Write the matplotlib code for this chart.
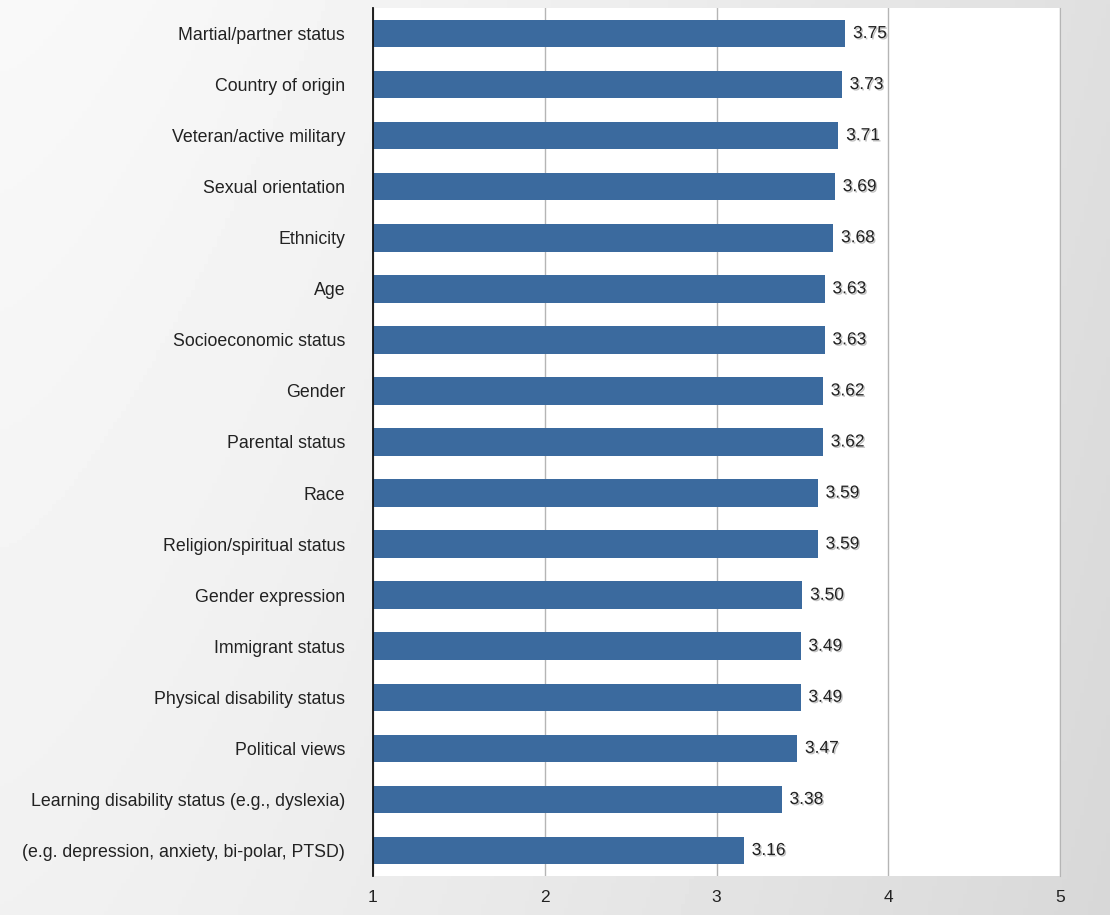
import matplotlib.pyplot as plt
import matplotlib.patheffects as pe
import numpy as np

categories = [
    "Martial/partner status",
    "Country of origin",
    "Veteran/active military",
    "Sexual orientation",
    "Ethnicity",
    "Age",
    "Socioeconomic status",
    "Gender",
    "Parental status",
    "Race",
    "Religion/spiritual status",
    "Gender expression",
    "Immigrant status",
    "Physical disability status",
    "Political views",
    "Learning disability status (e.g., dyslexia)",
    "(e.g. depression, anxiety, bi-polar, PTSD)",
]
values = [3.75, 3.73, 3.71, 3.69, 3.68, 3.63, 3.63, 3.62, 3.62,
          3.59, 3.59, 3.50, 3.49, 3.49, 3.47, 3.38, 3.16]
xticks = [1, 2, 3, 4, 5]

BAR = "#3b6a9e"
plt.rcParams["font.family"] = ["Liberation Sans", "DejaVu Sans"]

fig = plt.figure(figsize=(11.1, 9.15), dpi=100)

# grey slide-style background gradient
bg = fig.add_axes([0, 0, 1, 1], zorder=-10)
gx = np.linspace(0, 1, 256)
gy = np.linspace(0, 1, 256)
grad = 0.975 - 0.10 * gx[None, :] ** 1.4 - 0.03 * gy[:, None]
bg.imshow(grad, cmap="gray", vmin=0, vmax=1, aspect="auto", extent=[0, 1, 0, 1])
bg.axis("off")

ax = fig.add_axes([0.336, 0.0426, 0.619, 0.9487])
ax.set_facecolor("white")

y = np.arange(len(categories))
ax.barh(y, [v - 1 for v in values], left=1, height=0.54, color=BAR, zorder=3)
for yi, v in zip(y, values):
    ax.text(v + 0.045, yi, f"{v:.2f}", va="center", ha="left", fontsize=12.5,
            color="#222222", zorder=4,
            path_effects=[pe.withSimplePatchShadow(offset=(1, -1), alpha=0.25)])

ax.set_xlim(1, 5)
ax.set_ylim(len(categories) - 0.5, -0.5)
ax.set_xticks(xticks)
ax.set_xticklabels([str(t) for t in xticks], fontsize=12.5, color="#222222")
ax.set_yticks(y)
ax.set_yticklabels(categories, fontsize=12.8, color="#222222")
ax.tick_params(axis="both", length=0)
ax.tick_params(axis="x", pad=10)
ax.tick_params(axis="y", pad=20)
ax.grid(axis="x", color="#b5b5b5", linewidth=1, zorder=1)
ax.set_axisbelow(True)

for s in ("top", "bottom"):
    ax.spines[s].set_visible(False)
ax.spines["right"].set_color("#b5b5b5")
ax.spines["left"].set_color("#111111")
ax.spines["left"].set_linewidth(1.3)
ax.spines["left"].set_zorder(5)

fig.savefig("out.png", dpi=100)
